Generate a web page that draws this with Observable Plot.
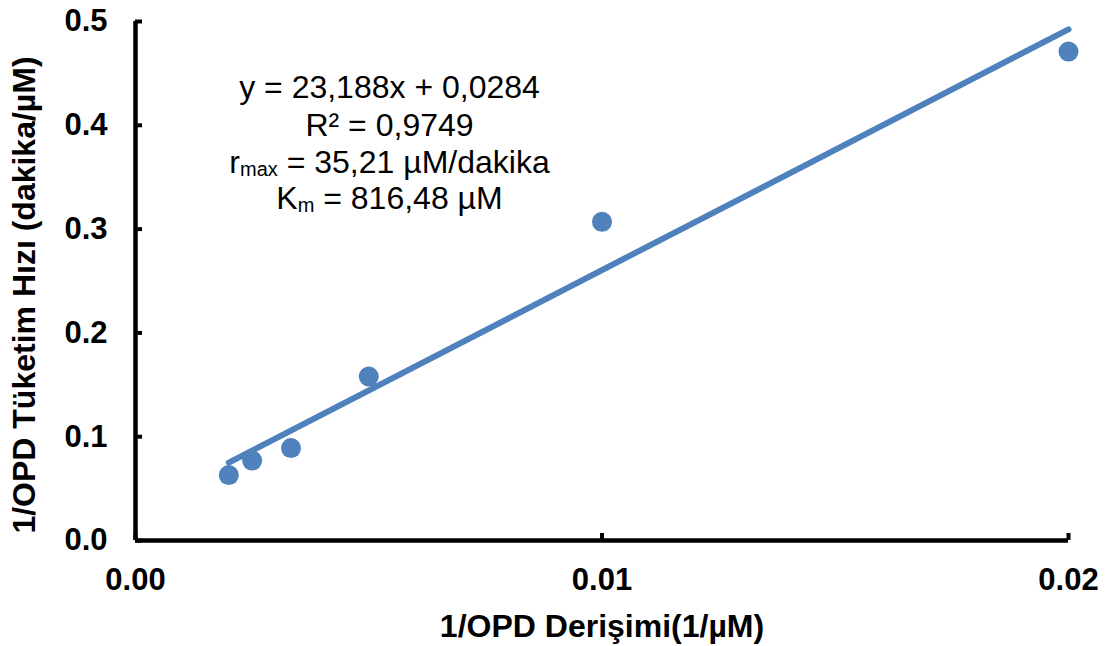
<!DOCTYPE html>
<html>
<head>
<meta charset="utf-8">
<script src="https://cdn.jsdelivr.net/npm/d3@7"></script>
<script src="https://cdn.jsdelivr.net/npm/@observablehq/plot@0.6"></script>
<style>
  html, body { margin: 0; padding: 0; background: #ffffff; }
  #chart { width: 1106px; height: 646px; }
</style>
</head>
<body>
<div id="chart"></div>
<script>
// Data
const xValues = [0.002, 0.0025, 0.003333, 0.005, 0.01, 0.02];   // 1/OPD Derişimi (1/µM)
const yValues = [0.063, 0.077, 0.089, 0.158, 0.307, 0.471];     // 1/OPD Tüketim Hızı (dakika/µM)
const xTicks = [0, 0.01, 0.02];
const yTicks = [0, 0.1, 0.2, 0.3, 0.4, 0.5];
const xLabel = "1/OPD Derişimi(1/µM)";
const yLabel = "1/OPD Tüketim Hızı (dakika/µM)";
// annotation lines: [main, subscript, rest]
const annotLines = [
  ["y = 23,188x + 0,0284", "", ""],
  ["R² = 0,9749", "", ""],
  ["r", "max", " = 35,21 µM/dakika"],
  ["K", "m", " = 816,48 µM"]
];
const annotDy = [66, 104, 141, 177];

const points = xValues.map((x, i) => ({x, y: yValues[i]}));
const blue = "#4F81BD";
const font = "'Liberation Sans', Arial, sans-serif";

const annotMarks = annotLines.map((line, i) =>
  Plot.text([line.join("")], {
    frameAnchor: "top-left",
    dx: 254,
    dy: annotDy[i],
    text: d => d,
    textAnchor: "middle",
    lineAnchor: "middle",
    fontSize: 32,
    fill: "black",
    className: "annot-" + i
  })
);

const chart = Plot.plot({
  width: 1106,
  height: 646,
  marginLeft: 135,
  marginRight: 38,
  marginTop: 21,
  marginBottom: 106,
  style: { fontFamily: font, background: "white", color: "black" },
  x: { domain: [0, 0.02] },
  y: { domain: [0, 0.5] },
  marks: [
    Plot.axisX(xTicks, {
      tickSize: -7, tickPadding: 34, strokeWidth: 4,
      tickFormat: d => d3.format(".2f")(d),
      fontSize: 31, fontWeight: "bold", label: null
    }),
    Plot.axisY(yTicks, {
      tickSize: -7, tickPadding: 35, strokeWidth: 4,
      tickFormat: d => d3.format(".1f")(d),
      fontSize: 31, fontWeight: "bold", label: null
    }),
    Plot.ruleY([0], { stroke: "black", strokeWidth: 4.5 }),
    Plot.ruleX([0], { stroke: "black", strokeWidth: 4.5 }),
    Plot.linearRegressionY(points, { x: "x", y: "y", ci: 0, stroke: blue, strokeWidth: 6 }),
    Plot.dot(points, { x: "x", y: "y", r: 10, fill: blue, stroke: "none" }),
    Plot.text([xLabel], {
      frameAnchor: "bottom", dy: 86, text: d => d, lineAnchor: "middle", textAnchor: "middle",
      fontSize: 32, fontWeight: "bold", fill: "black"
    }),
    Plot.text([yLabel], {
      frameAnchor: "left", dx: -111, dy: 14, rotate: -90, text: d => d,
      lineAnchor: "middle", textAnchor: "middle",
      fontSize: 32, fontWeight: "bold", fill: "black"
    }),
    ...annotMarks
  ]
});

document.getElementById("chart").appendChild(chart);

// add subscripts to annotation lines
annotLines.forEach((line, i) => {
  const t = d3.select(chart).select(".annot-" + i + " text");
  if (t.empty() || !line[1]) return;
  t.text(null);
  t.append("tspan").text(line[0]);
  t.append("tspan").attr("font-size", 20).attr("dy", 3).text(line[1]);
  t.append("tspan").attr("dy", -3).text(line[2]);
});
</script>
</body>
</html>
